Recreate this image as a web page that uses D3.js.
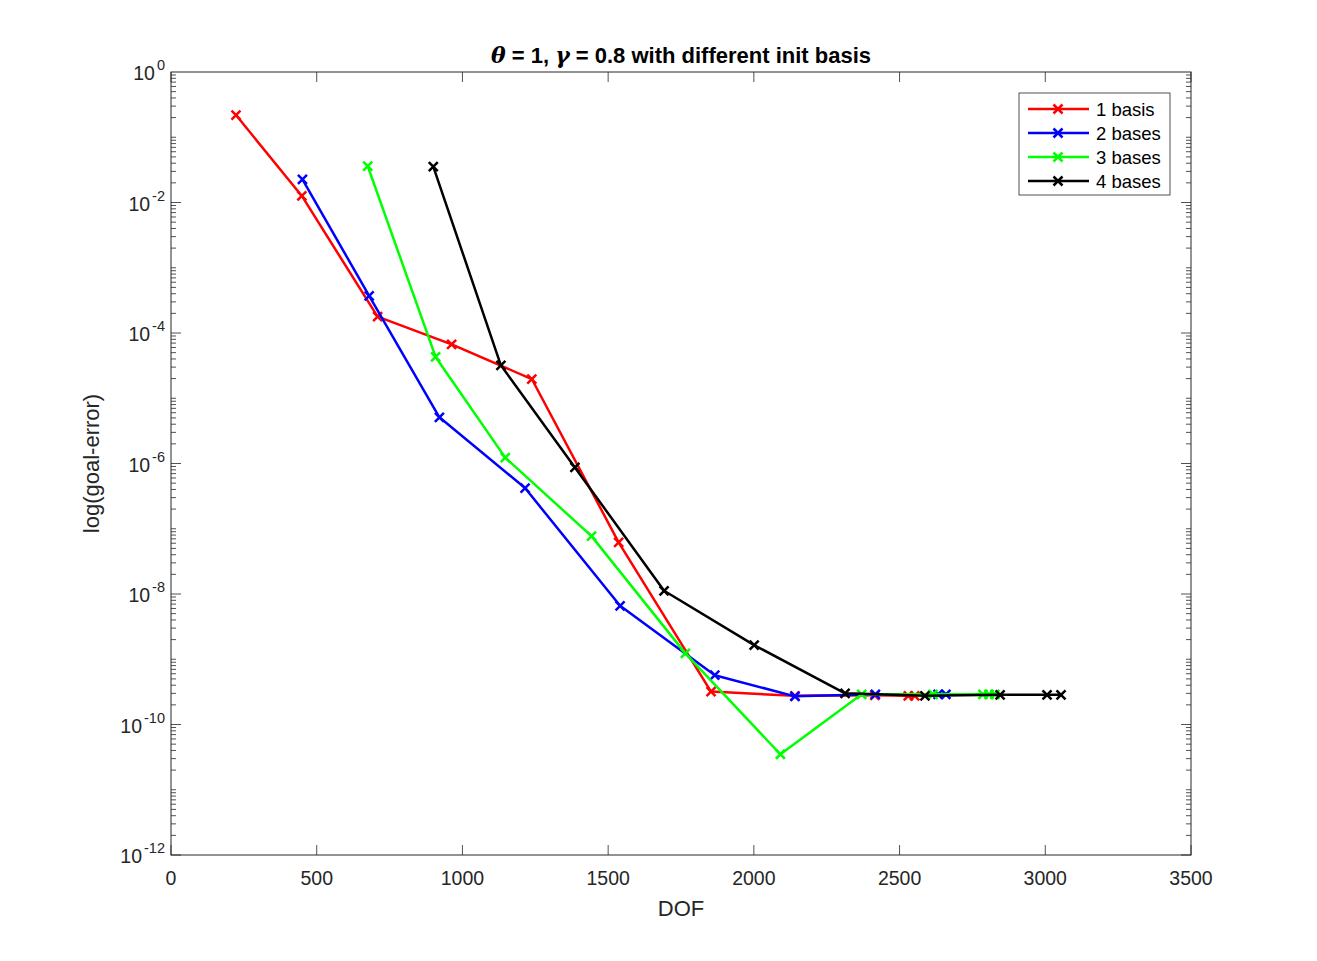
<!DOCTYPE html>
<html>
<head>
<meta charset="utf-8">
<script src="https://cdn.jsdelivr.net/npm/d3@7"></script>
<style>
  body { margin: 0; background: #fff; }
  text { font-family: "Liberation Sans", Arial, Helvetica, sans-serif; fill: #262626; }
</style>
</head>
<body>
<svg id="chart"></svg>
<script>
// data
var seriesNames = ['1 basis', '2 bases', '3 bases', '4 bases']
var seriesColors = ['#ff0000', '#0000ff', '#00ff00', '#000000']

var dof1 = [223, 449, 709, 963, 1238, 1536, 1853, 2141, 2415, 2530, 2552]
var err1 = [0.219, 0.0126, 1.78e-4, 6.7e-5, 1.97e-5, 6.2e-8, 3.2e-10, 2.75e-10, 2.8e-10, 2.75e-10, 2.75e-10]

var dof2 = [451, 680, 921, 1215, 1541, 1866, 2141, 2417, 2632, 2659]
var err2 = [0.0227, 3.7e-4, 5.1e-6, 4.2e-7, 6.6e-9, 5.7e-10, 2.7e-10, 2.9e-10, 2.9e-10, 2.9e-10]

var dof3 = [675, 908, 1147, 1443, 1765, 2091, 2370, 2615, 2786, 2807, 2827]
var err3 = [0.036, 4.3e-5, 1.23e-6, 7.7e-8, 1.23e-9, 3.5e-11, 2.9e-10, 2.9e-10, 2.9e-10, 2.9e-10, 2.9e-10]

var dof4 = [900, 1132, 1386, 1692, 2001, 2313, 2587, 2845, 3006, 3054]
var err4 = [0.0354, 3.2e-5, 8.7e-7, 1.12e-8, 1.65e-9, 3.0e-10, 2.75e-10, 2.85e-10, 2.85e-10, 2.85e-10]

var xTicks = [0, 500, 1000, 1500, 2000, 2500, 3000, 3500]
var yTickExps = [0, -2, -4, -6, -8, -10, -12]

// layout
var svgWidth = 1317
var svgHeight = 961
var plotLeft = 171, plotRight = 1191, plotTop = 72, plotBottom = 855
var axisColor = '#262626'

var svg = d3.select('#chart').attr('width', svgWidth).attr('height', svgHeight)

var x = d3.scaleLinear().domain([0, 3500]).range([plotLeft, plotRight])
var y = d3.scaleLog().domain([1e-12, 1]).range([plotBottom, plotTop])

// ticks on log axis (left and right, pointing inward)
var g = svg.append('g')
for (var k = -12; k < 0; k++) {
  for (var m = 1; m <= 9; m++) {
    var v = m * Math.pow(10, k)
    var len = (m === 1 && k % 2 === 0) ? 10 : 5
    var yy = y(v)
    g.append('line').attr('x1', plotLeft).attr('x2', plotLeft + len).attr('y1', yy).attr('y2', yy)
      .attr('stroke', axisColor).attr('stroke-width', 0.8)
    g.append('line').attr('x1', plotRight).attr('x2', plotRight - len).attr('y1', yy).attr('y2', yy)
      .attr('stroke', axisColor).attr('stroke-width', 0.8)
  }
}

// x ticks top and bottom
xTicks.forEach(function (t) {
  g.append('line').attr('x1', x(t)).attr('x2', x(t)).attr('y1', plotBottom).attr('y2', plotBottom - 10)
    .attr('stroke', axisColor).attr('stroke-width', 0.8)
  g.append('line').attr('x1', x(t)).attr('x2', x(t)).attr('y1', plotTop).attr('y2', plotTop + 10)
    .attr('stroke', axisColor).attr('stroke-width', 0.8)
  svg.append('text').attr('x', x(t)).attr('y', plotBottom + 30)
    .attr('text-anchor', 'middle').attr('font-size', 19.5).text(t)
})

// y tick labels 10^k
yTickExps.forEach(function (e) {
  var t = svg.append('text').attr('x', plotLeft - 6).attr('y', y(Math.pow(10, e)) + 8)
    .attr('text-anchor', 'end').attr('font-size', 19.5)
  t.append('tspan').text('10')
  t.append('tspan').attr('dx', 2).attr('dy', -10).attr('font-size', 14.5)
    .text(e === 0 ? '0' : '-' + (-e))
})

// box
svg.append('rect').attr('x', plotLeft).attr('y', plotTop)
  .attr('width', plotRight - plotLeft).attr('height', plotBottom - plotTop)
  .attr('fill', 'none').attr('stroke', axisColor).attr('stroke-width', 1)

// series
var dofs = [dof1, dof2, dof3, dof4]
var errs = [err1, err2, err3, err4]
var line = d3.line().x(function (d) { return x(d[0]) }).y(function (d) { return y(d[1]) })

function drawCross (sel, cx, cy, color) {
  var s = 4.5
  sel.append('path')
    .attr('d', 'M' + (cx - s) + ',' + (cy - s) + 'L' + (cx + s) + ',' + (cy + s) +
      'M' + (cx - s) + ',' + (cy + s) + 'L' + (cx + s) + ',' + (cy - s))
    .attr('stroke', color).attr('stroke-width', 2.5).attr('fill', 'none')
}

for (var i = 0; i < 4; i++) {
  var pts = dofs[i].map(function (d, j) { return [d, errs[i][j]] })
  var sg = svg.append('g')
  sg.append('path').datum(pts).attr('d', line)
    .attr('fill', 'none').attr('stroke', seriesColors[i]).attr('stroke-width', 2.5)
    .attr('stroke-linejoin', 'round')
  pts.forEach(function (p) { drawCross(sg, x(p[0]), y(p[1]), seriesColors[i]) })
}

// legend
var lg = svg.append('g')
lg.append('rect').attr('x', 1019).attr('y', 93).attr('width', 151).attr('height', 102)
  .attr('fill', '#fff').attr('stroke', axisColor).attr('stroke-width', 0.8)
seriesNames.forEach(function (name, i) {
  var ly = 109 + i * 24
  lg.append('line').attr('x1', 1028).attr('x2', 1089).attr('y1', ly).attr('y2', ly)
    .attr('stroke', seriesColors[i]).attr('stroke-width', 2.5)
  drawCross(lg, 1058, ly, seriesColors[i])
  lg.append('text').attr('x', 1096).attr('y', ly + 7).attr('font-size', 18.5)
    .style('fill', '#000').text(name)
})

// title and axis labels
var title = svg.append('text').attr('x', (plotLeft + plotRight) / 2).attr('y', 63)
  .attr('text-anchor', 'middle').attr('font-size', 22).attr('font-weight', 'bold')
  .style('fill', '#000')
title.append('tspan').attr('font-style', 'italic').attr('font-family', 'DejaVu Serif').text('\u03b8')
title.append('tspan').text(' = 1, ')
title.append('tspan').attr('font-style', 'italic').attr('font-family', 'DejaVu Serif').text('\u03b3')
title.append('tspan').text(' = 0.8 with different init basis')

svg.append('text').attr('x', (plotLeft + plotRight) / 2).attr('y', 916)
  .attr('text-anchor', 'middle').attr('font-size', 22).text('DOF')

svg.append('text').attr('transform', 'translate(99,' + ((plotTop + plotBottom) / 2) + ') rotate(-90)')
  .attr('text-anchor', 'middle').attr('font-size', 22).text('log(goal-error)')
</script>
</body>
</html>
